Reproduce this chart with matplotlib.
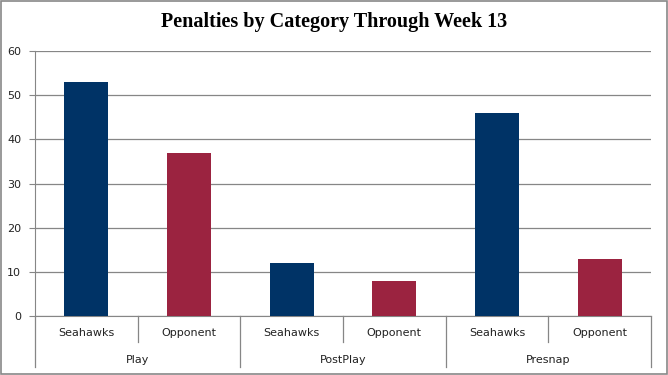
import matplotlib
matplotlib.use("Agg")
import matplotlib.pyplot as plt
from matplotlib.patches import Rectangle
import matplotlib.transforms as mtransforms

categories = ["Play", "PostPlay", "Presnap"]
teams = ["Seahawks", "Opponent"]
values = [53, 37, 12, 8, 46, 13]
colors = ["#003366", "#9B2340"]
yticks = [0, 10, 20, 30, 40, 50, 60]

GRID = "#868686"

fig = plt.figure(figsize=(6.68, 3.75), dpi=100)
ax = fig.add_axes([35 / 668, 59 / 375, 616 / 668, 265 / 375])

xs = list(range(len(values)))
bar_colors = [colors[i % 2] for i in xs]
ax.bar(xs, values, width=0.43, color=bar_colors, zorder=3)

ax.set_xlim(-0.5, len(values) - 0.5)
ax.set_ylim(0, 60)
ax.set_yticks(yticks)
ax.yaxis.grid(True, color=GRID, linewidth=0.9)
ax.set_axisbelow(True)
ax.tick_params(axis="y", length=4, color=GRID, labelsize=8, labelcolor="#222222", pad=6)
ax.set_xticks([])
for s in ["top", "right"]:
    ax.spines[s].set_visible(False)
ax.spines["left"].set_color(GRID)
ax.spines["bottom"].set_color(GRID)

# multi-level category axis
tr = mtransforms.blended_transform_factory(ax.transData, ax.transAxes)
lv1 = -26 / 265
lv2 = -51 / 265
for x in xs:
    ax.text(x, -17 / 265, teams[x % 2], transform=tr, ha="center", va="center",
            fontsize=8, color="#222222")
for x in [0.5, 2.5, 4.5]:
    ax.plot([x, x], [0, lv1], transform=tr, color=GRID, lw=0.9, clip_on=False)
for x in [-0.5, 1.5, 3.5, 5.5]:
    ax.plot([x, x], [0, lv2], transform=tr, color=GRID, lw=0.9, clip_on=False)
for i, c in enumerate(categories):
    ax.text(2 * i + 0.5, -44 / 265, c, transform=tr, ha="center", va="center",
            fontsize=8, color="#222222")

fig.text(0.5, 1 - 22 / 375, "Penalties by Category Through Week 13", ha="center", va="center",
         fontsize=14.5, fontweight="bold", family="Liberation Serif")

fig.patches.append(Rectangle((0.001, 0.002), 0.997, 0.995, transform=fig.transFigure,
                             fill=False, edgecolor="#888888", lw=1.2))

fig.savefig("out.png", dpi=100)
